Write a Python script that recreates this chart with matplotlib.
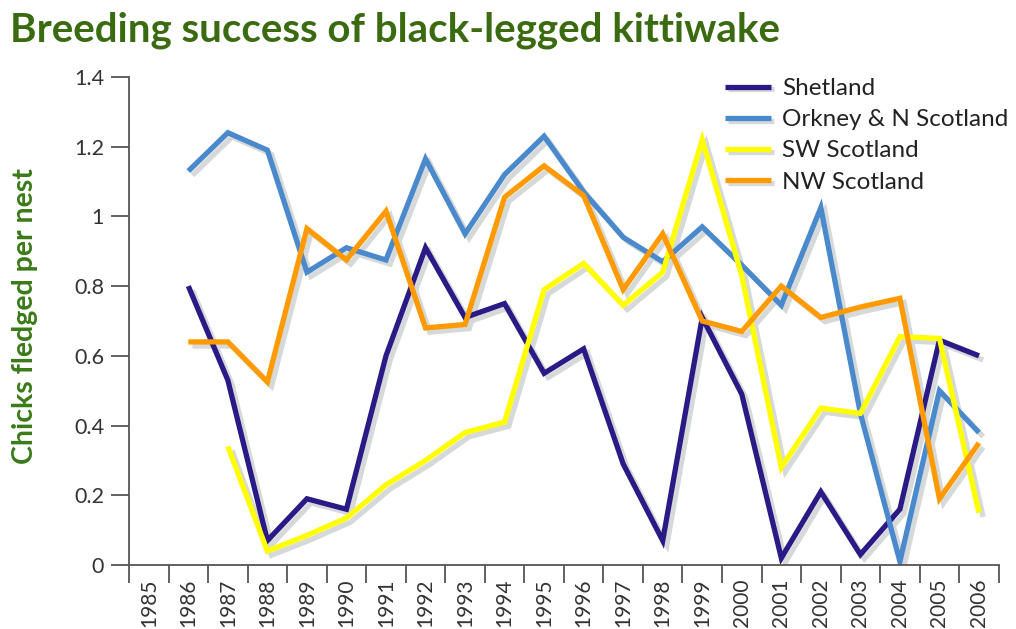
import matplotlib
matplotlib.use("Agg")
import matplotlib.pyplot as plt
import matplotlib.transforms as mtransforms
import matplotlib.patheffects as pe
import numpy as np

plt.rcParams['font.family'] = ['Lato', 'DejaVu Sans']

years = list(range(1985, 2007))

# chicks fledged per nest, None = no data
shetland = [None, 0.80, 0.53, 0.07, 0.19, 0.16, 0.60, 0.91, 0.71, 0.75, 0.55,
            0.62, 0.29, 0.07, 0.71, 0.49, 0.02, 0.21, 0.03, 0.16, 0.645, 0.60]
orkney = [None, 1.13, 1.24, 1.19, 0.84, 0.91, 0.875, 1.165, 0.95, 1.12, 1.23,
          1.07, 0.94, 0.87, 0.97, 0.86, 0.745, 1.025, 0.435, 0.01, 0.50, 0.38]
sw_scotland = [None, None, 0.34, 0.04, 0.085, 0.135, 0.23, 0.30, 0.38, 0.41, 0.79,
               0.865, 0.745, 0.84, 1.22, 0.83, 0.28, 0.45, 0.435, 0.655, 0.65, 0.15]
nw_scotland = [None, 0.64, 0.64, 0.525, 0.965, 0.875, 1.015, 0.68, 0.69, 1.055, 1.145,
               1.06, 0.79, 0.95, 0.70, 0.67, 0.80, 0.71, 0.74, 0.765, 0.19, 0.35]

series = [
    ("Shetland", shetland, "#291a85"),
    ("Orkney & N Scotland", orkney, "#4a89cc"),
    ("SW Scotland", sw_scotland, "#ffff00"),
    ("NW Scotland", nw_scotland, "#ff9a00"),
]

fig = plt.figure(figsize=(10.16, 6.29), dpi=100)
ax = fig.add_axes([0.127, 0.1017, 0.856, 0.776])

x = np.arange(len(years))
lw = 3.8
shadow = mtransforms.offset_copy(ax.transData, fig=fig, x=3, y=-3, units='points')

# shadows first so every line sits above all shadows
for name, vals, col in series:
    y = np.array([np.nan if v is None else v for v in vals])
    ax.plot(x, y, color='#d6d9d9', lw=lw, transform=shadow,
            solid_joinstyle='miter', solid_capstyle='butt', zorder=1)

handles = []
for name, vals, col in series:
    y = np.array([np.nan if v is None else v for v in vals])
    ln, = ax.plot(x, y, color=col, lw=lw, label=name,
                  solid_joinstyle='miter', solid_capstyle='butt', zorder=2)
    handles.append(ln)

ax.set_xlim(-0.5, len(years) - 0.5)
ax.set_ylim(0, 1.4)

yt = [0, 0.2, 0.4, 0.6, 0.8, 1.0, 1.2, 1.4]
ax.set_yticks(yt)
ax.set_yticklabels(['0', '0.2', '0.4', '0.6', '0.8', '1', '1.2', '1.4'])

ax.set_xticks(x)
ax.set_xticklabels([str(v) for v in years], rotation=90)
ax.set_xticks(np.arange(-0.5, len(years)), minor=True)
ax.tick_params(axis='x', which='major', length=0, pad=10, labelsize=15, labelcolor='#333333')
ax.tick_params(axis='x', which='minor', length=13, width=1.3, color='#555555')
ax.tick_params(axis='y', length=13, width=1.3, color='#555555', labelsize=15.5,
               labelcolor='#333333', pad=5)

for s in ['top', 'right']:
    ax.spines[s].set_visible(False)
for s in ['left', 'bottom']:
    ax.spines[s].set_color('#555555')
    ax.spines[s].set_linewidth(1.3)

fig.text(0.010, 0.982, "Breeding success of black-legged kittiwake",
         fontsize=29, fontweight='bold', color='#3a6b10', ha='left', va='top')
fig.text(0.025, 0.497, "Chicks fledged per nest", rotation=90, fontsize=20.5,
         fontweight='bold', color='#3a7a18', ha='center', va='center')

leg = ax.legend(handles=handles, loc='upper left',
                bbox_to_anchor=(725 / 1016, 1 - 78 / 629), bbox_transform=fig.transFigure,
                borderaxespad=0, borderpad=0,
                frameon=False, fontsize=17.5, handlelength=1.9, handletextpad=0.45,
                labelspacing=0.42)
for h in leg.legend_handles:
    h.set_path_effects([pe.SimpleLineShadow(offset=(2, -2), shadow_color='#d6d9d9', alpha=1.0),
                        pe.Normal()])
for t in leg.get_texts():
    t.set_color('#222222')

fig.savefig("out.png", dpi=100)
